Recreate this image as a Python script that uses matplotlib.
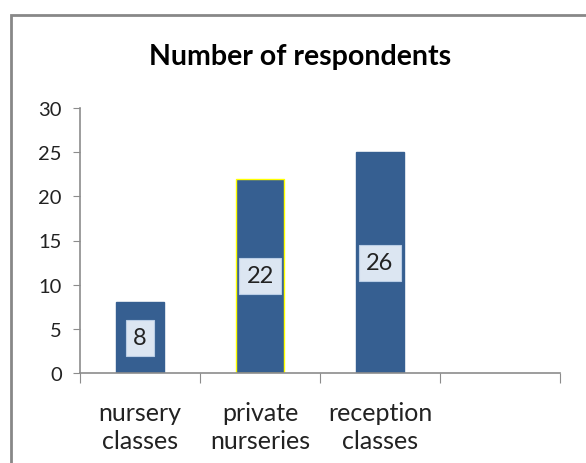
import numpy as np
import matplotlib
matplotlib.use('Agg')
import matplotlib.pyplot as plt
from matplotlib.patches import Rectangle

plt.rcParams['font.family'] = ['Lato', 'DejaVu Sans']

categories = ['nursery\nclasses', 'private\nnurseries', 'reception\nclasses', '']
values = [8, 22, 25]
labels = ['8', '22', '26']
edge_colours = ['#365f91', '#ffff00', '#365f91']

bar_col = '#365f91'
axis_col = '#8c8c8c'

fig = plt.figure(figsize=(5.86, 4.64), dpi=100)

# outer chart frame (runs off the right / bottom of the picture)
fig.patches.append(Rectangle((11/586, -0.1), 1.0, 1 - 16/464 + 0.1,
                             transform=fig.transFigure, fill=False,
                             edgecolor='#888888', lw=2))

ax = fig.add_axes([80/586, 90/464, 480/586, 265/464])

x = np.arange(len(values)) + 0.5
ax.bar(x, values, width=0.4, color=bar_col, edgecolor=edge_colours, lw=1)

for xi, v, lab in zip(x, values, labels):
    ax.text(xi, v/2, lab, ha='center', va='center', fontsize=17, color='#222222',
            bbox=dict(boxstyle='square,pad=0.32', facecolor='#dce6f2',
                      edgecolor='#b9cde5', lw=0.8))

ax.set_xlim(0, 4)
ax.set_ylim(0, 30)
ax.set_yticks(range(0, 31, 5))
ax.set_xticks(range(0, 5))
ax.set_xticklabels([])
ax.set_xticks(np.arange(4) + 0.5, minor=True)
ax.set_xticklabels(categories, minor=True, fontsize=18, color='#222222', linespacing=1.3)
ax.tick_params(axis='x', which='minor', length=0, pad=20)
ax.tick_params(axis='x', which='major', length=7, color=axis_col, direction='out')
ax.tick_params(axis='y', length=5, color=axis_col, labelsize=14.5, labelcolor='#222222', pad=8)

for s in ['top', 'right']:
    ax.spines[s].set_visible(False)
for s in ['left', 'bottom']:
    ax.spines[s].set_color(axis_col)
    ax.spines[s].set_linewidth(1.2)

fig.text(300/586, 1 - 57/464, 'Number of respondents', ha='center', va='center',
         fontsize=20.5, fontweight='bold', color='black')

fig.savefig('out.png', dpi=100)
